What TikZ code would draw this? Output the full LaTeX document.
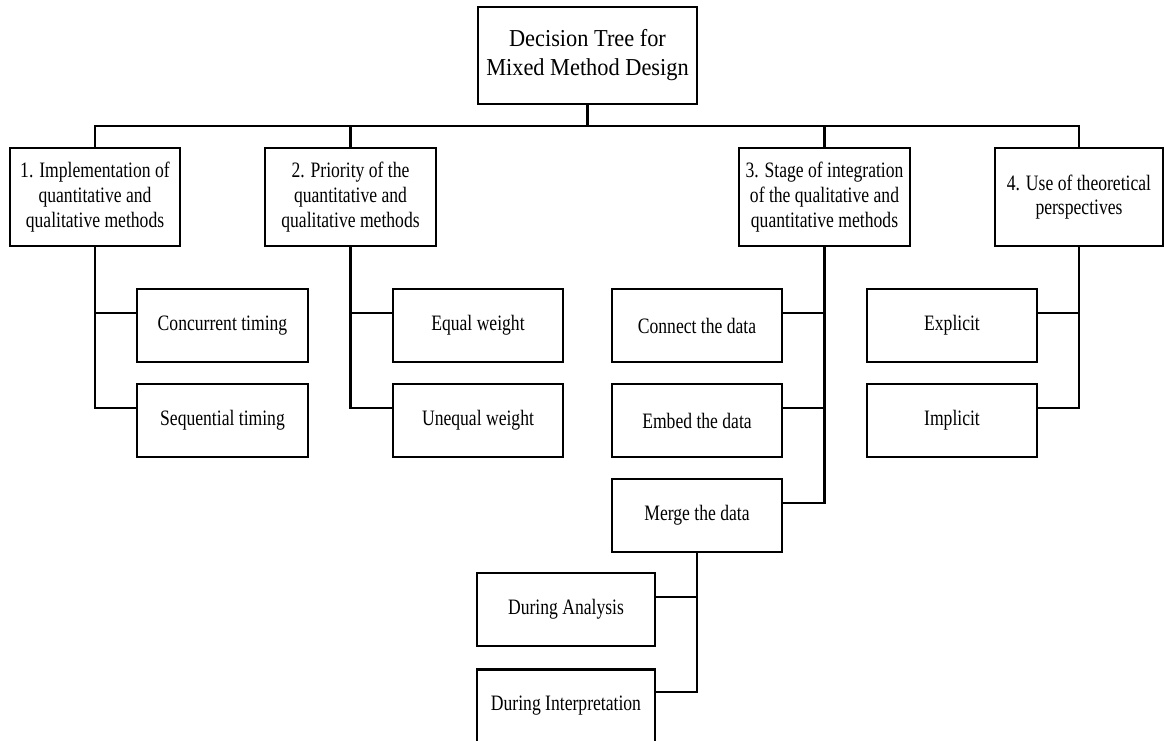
\documentclass[tikz,border=0pt]{standalone}
\usepackage{fontspec}
\setmainfont{Liberation Serif}[FakeStretch=0.80]
\newfontfamily\rootfont{Liberation Serif}[FakeStretch=0.92]
\begin{document}
\begin{tikzpicture}[x=1pt,y=-1pt,
  line width=2.3pt,
  box/.style={draw, rectangle, inner sep=0pt, align=center},
  rootbox/.style={box, minimum width=219pt, minimum height=97pt,
    font=\rootfont\fontsize{24.3}{29}\selectfont},
  topicbox/.style={box, minimum width=171pt, minimum height=98pt,
    font=\fontsize{22}{24.7}\selectfont},
  leafbox/.style={box, minimum width=171pt, minimum height=73pt,
    font=\fontsize{22}{24.7}\selectfont},
  wire/.style={draw, line width=2.3pt}
]
\clip (0,0) rectangle (1164,740);

% root
\node[rootbox] (root) at (587.5,55.5) {Decision Tree for\\Mixed Method Design};

% the four design questions
\node[topicbox, minimum width=170pt] (t1) at (95,197) {1. Implementation of\\quantitative and\\qualitative methods};
\node[topicbox] (t2) at (350.5,197) {2. Priority of the\\quantitative and\\qualitative methods};
\node[topicbox] (t3) at (824.5,197) {3. Stage of integration\\of the qualitative and\\quantitative methods};
\node[topicbox, minimum width=168pt] (t4) at (1079,197) {4. Use of theoretical\\perspectives};

% options
\node[leafbox] (conc) at (222.5,325.5) {Concurrent timing};
\node[leafbox] (seq)  at (222.5,420.5) {Sequential timing};
\node[leafbox, minimum width=170pt] (eqw)  at (478,325.5) {Equal weight};
\node[leafbox, minimum width=170pt] (uneq) at (478,420.5) {Unequal weight};
\node[leafbox, minimum width=170pt] (conn) at (697,325.5) {Connect the data};
\node[leafbox, minimum width=170pt] (emb)  at (697,420.5) {Embed the data};
\node[leafbox, minimum width=170pt] (merge) at (697,515.5) {Merge the data};
\node[leafbox, minimum width=170pt] (expl) at (952,325.5) {Explicit};
\node[leafbox, minimum width=170pt] (impl) at (952,420.5) {Implicit};
\node[leafbox, minimum width=178pt] (dana) at (566,609.5) {During Analysis};
\node[leafbox, minimum width=178pt] (dint) at (566,706) {During Interpretation};

% bus below the root
\coordinate (bus) at (0,126);
\draw[wire] (root.south) -- (root.south |- bus) -| (t1.north);
\draw[wire] (root.south |- bus) -| (t2.north);
\draw[wire] (root.south |- bus) -| (t3.north);
\draw[wire] (root.south |- bus) -| (t4.north);

% branches to the options
\draw[wire] (t1.south) |- ([yshift=12.5pt]conc.west);
\draw[wire] (t1.south) |- ([yshift=12.5pt]seq.west);
\draw[wire] (t2.south) |- ([yshift=12.5pt]eqw.west);
\draw[wire] (t2.south) |- ([yshift=12.5pt]uneq.west);
\draw[wire] (t3.south) |- ([yshift=12.5pt]conn.east);
\draw[wire] (t3.south) |- ([yshift=12.5pt]emb.east);
\draw[wire] (t3.south) |- ([yshift=12.5pt]merge.east);
\draw[wire] (t4.south) |- ([yshift=12.5pt]expl.east);
\draw[wire] (t4.south) |- ([yshift=12.5pt]impl.east);
\draw[wire] (merge.south) |- ([yshift=12.5pt]dana.east);
\draw[wire] (merge.south) |- ([yshift=14pt]dint.east);
\end{tikzpicture}
\end{document}
